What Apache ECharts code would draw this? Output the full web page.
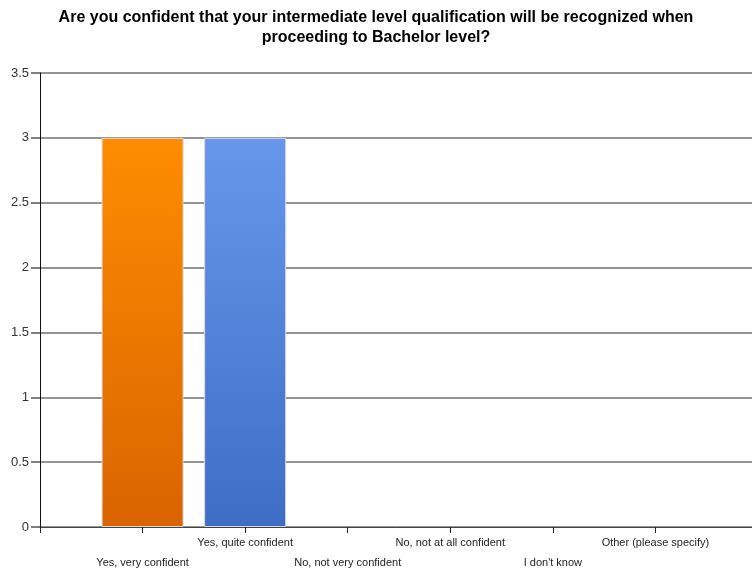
<!DOCTYPE html>
<html>
<head>
<meta charset="utf-8">
<script src="https://cdn.jsdelivr.net/npm/echarts@6/dist/echarts.min.js"></script>
<style>html,body{margin:0;padding:0;background:#fff;}#chart{width:752px;height:570px;}</style>
</head>
<body>
<div id="chart"></div>
<script>
const titleText = 'Are you confident that your intermediate level qualification will be recognized when\nproceeding to Bachelor level?';
const categories = ['', 'Yes, very confident', 'Yes, quite confident', 'No, not very confident', 'No, not at all confident', "I don't know", 'Other (please specify)', ''];
const values = ['-', 3, 3, 0, 0, 0, 0, '-'];
const yTicks = { min: 0, max: 3.5, interval: 0.5 };
const barColors = [
  null,
  ['#FF8C00', '#D96400'],
  ['#6797EC', '#3E6DC6'],
  ['#FF8C00', '#D96400'],
  ['#6797EC', '#3E6DC6'],
  ['#FF8C00', '#D96400'],
  ['#6797EC', '#3E6DC6'],
  null
];

const chart = echarts.init(document.getElementById('chart'));
chart.setOption({
  animation: false,
  backgroundColor: '#fff',
  title: {
    text: titleText,
    left: 'center',
    top: 3,
    textStyle: { fontFamily: 'Liberation Sans', fontWeight: 'bold', fontSize: 16, color: '#000', lineHeight: 20 }
  },
  grid: { left: 40, width: 718, top: 73, bottom: 43, containLabel: false, outerBoundsMode: 'none' },
  xAxis: {
    type: 'category',
    data: categories,
    boundaryGap: false,
    axisLine: { lineStyle: { color: '#444', width: 1 } },
    axisTick: { show: true, length: 6, interval: 0, lineStyle: { color: '#222' } },
    axisLabel: {
      interval: 0,
      margin: 10,
      formatter: function (v, i) {
        if (!v) return '';
        return i % 2 === 1 ? '{lo|' + v + '}' : '{hi|' + v + '}';
      },
      rich: {
        hi: { fontFamily: 'Liberation Sans', fontSize: 11, color: '#222', padding: [0, 0, 0, 0] },
        lo: { fontFamily: 'Liberation Sans', fontSize: 11, color: '#222', padding: [20, 0, 0, 0] }
      }
    },
    splitLine: { show: false }
  },
  yAxis: {
    type: 'value',
    min: yTicks.min,
    max: yTicks.max,
    interval: yTicks.interval,
    axisLine: { show: true, lineStyle: { color: '#111', width: 1 } },
    axisTick: { show: true, inside: false, length: 9, lineStyle: { color: '#555', width: 1.5 } },
    axisLabel: { margin: 11, fontFamily: 'Liberation Sans', fontSize: 13, color: '#333' },
    splitLine: { show: true, lineStyle: { color: '#707070', width: 1.5 } }
  },
  series: [{
    type: 'bar',
    barWidth: 82,
    data: values.map(function (v, i) {
      if (v === '-') return '-';
      const c = barColors[i];
      return {
        value: v,
        itemStyle: {
          color: new echarts.graphic.LinearGradient(0, 0, 0, 1, [
            { offset: 0, color: c[0] },
            { offset: 1, color: c[1] }
          ]),
          borderColor: '#d8d8d8',
          borderWidth: v > 0 ? 1 : 0
        }
      };
    })
  }]
});
</script>
</body>
</html>
